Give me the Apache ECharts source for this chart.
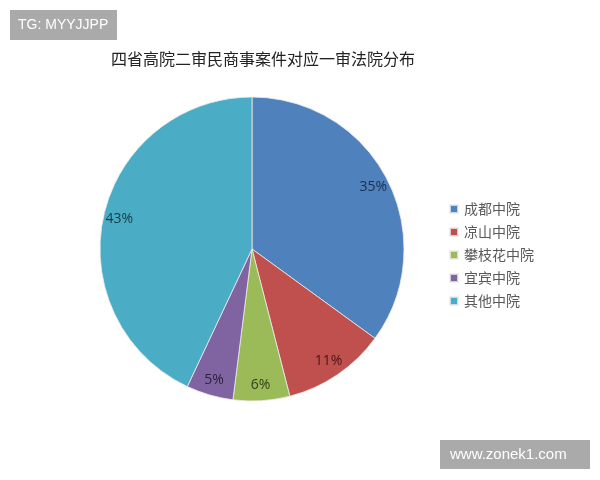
<!DOCTYPE html>
<html>
<head>
<meta charset="utf-8">
<script src="https://cdn.jsdelivr.net/npm/echarts@6/dist/echarts.min.js"></script>
<style>
  html, body { margin: 0; padding: 0; background: #fff; }
  #chart { width: 600px; height: 480px; }
</style>
</head>
<body>
<div id="chart"></div>
<script>
// 数据
const courts = ['成都中院', '凉山中院', '攀枝花中院', '宜宾中院', '其他中院'];
const shares = [35, 11, 6, 5, 43];
const sliceColors = ['#4F81BD', '#C0504D', '#9BBB59', '#8064A2', '#4BACC6'];
const labelColors = ['#1c2f4f', '#4a1515', '#33401c', '#2e2140', '#173b47'];

const chart = echarts.init(document.getElementById('chart'));

const mainData = courts.map((name, i) => ({
  name: name,
  value: shares[i],
  itemStyle: { color: sliceColors[i] }
}));

// 透明外环，只用来把百分比标签放到靠外的位置
const labelData = courts.map((name, i) => ({
  name: name,
  value: shares[i],
  label: { color: labelColors[i] }
}));

const option = {
  backgroundColor: '#fff',
  title: {
    text: '四省高院二审民商事案件对应一审法院分布',
    left: 258,
    textAlign: 'center',
    top: 46,
    textStyle: {
      fontFamily: 'Noto Sans CJK SC',
      fontWeight: 'normal',
      fontSize: 16,
      color: '#222'
    }
  },
  legend: {
    orient: 'vertical',
    left: 444,
    top: 197,
    itemWidth: 8,
    itemHeight: 8,
    itemGap: 9,
    icon: 'rect',
    data: courts,
    textStyle: {
      fontFamily: 'Noto Sans CJK SC',
      fontSize: 14,
      lineHeight: 14,
      color: '#595959',
      padding: [0, 0, 0, 1]
    }
  },
  series: [
    {
      type: 'pie',
      center: [252, 249],
      radius: [0, 152],
      startAngle: 90,
      clockwise: true,
      data: mainData,
      label: { show: false },
      labelLine: { show: false },
      itemStyle: { borderColor: 'rgba(235,235,235,0.8)', borderWidth: 1 },
      emphasis: { disabled: true },
      animation: false
    },
    {
      type: 'pie',
      center: [252, 249],
      radius: [114, 152],
      startAngle: 90,
      clockwise: true,
      silent: true,
      data: labelData,
      itemStyle: { color: 'rgba(0,0,0,0)' },
      label: {
        show: true,
        position: 'inside',
        formatter: '{c}%',
        fontFamily: 'Open Sans',
        fontSize: 14
      },
      labelLine: { show: false },
      emphasis: { disabled: true },
      animation: false
    }
  ],
  graphic: [
    {
      type: 'group',
      left: 10,
      top: 10,
      children: [
        { type: 'rect', shape: { x: 0, y: 0, width: 107, height: 30 }, style: { fill: '#aaaaaa' } },
        { type: 'text', x: 8, y: 15, style: { text: 'TG: MYYJJPP', fill: '#fff', font: '14px "Liberation Sans"', textVerticalAlign: 'middle' } }
      ]
    },
    {
      type: 'group',
      left: 440,
      top: 440,
      children: [
        { type: 'rect', shape: { x: 0, y: 0, width: 150, height: 29 }, style: { fill: '#aaaaaa' } },
        { type: 'text', x: 10, y: 15, style: { text: 'www.zonek1.com', fill: '#fff', font: '15px "Liberation Sans"', textVerticalAlign: 'middle' } }
      ]
    }
  ]
};

chart.setOption(option);
</script>
</body>
</html>
